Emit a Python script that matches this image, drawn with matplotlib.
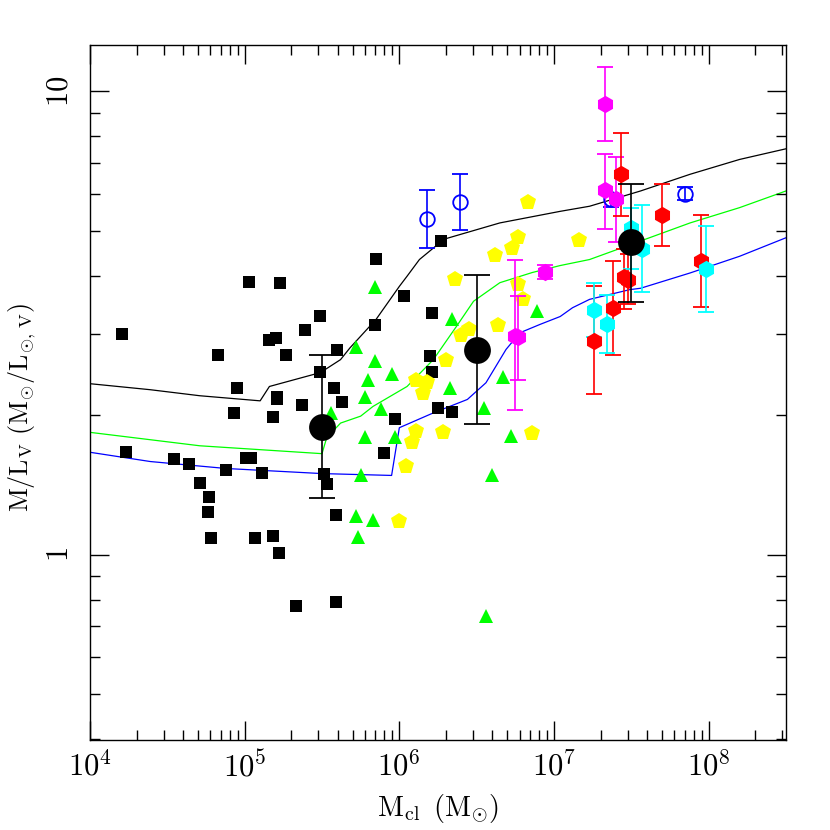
import numpy as np
import matplotlib.pyplot as plt
from matplotlib.ticker import FixedLocator, NullFormatter

plt.rcParams['font.family'] = 'serif'
plt.rcParams['font.serif'] = ['DejaVu Serif']
plt.rcParams['mathtext.fontset'] = 'cm'

# all values are log10(M_cl / Msun) and log10(M/L_V)
# black squares
sq_logm = [4.21, 4.23, 4.54, 4.64, 4.71, 4.77, 4.76, 4.78, 4.83, 4.95, 4.93, 4.88, 5.01, 5.04, 5.03,
           5.07, 5.11, 5.16, 5.20, 5.18, 5.18, 5.21, 5.21, 5.22, 5.23, 5.27, 5.33, 5.37, 5.39, 5.49,
           5.49, 5.51, 5.53, 5.58, 5.60, 5.59, 5.59, 5.63, 5.84, 5.85, 5.90, 5.97, 6.03, 6.20, 6.21,
           6.21, 6.25, 6.27, 6.34]
sq_logml = [0.477, 0.222, 0.207, 0.196, 0.154, 0.125, 0.093, 0.035, 0.430, 0.359, 0.305, 0.182, 0.208, 0.208, 0.589,
            0.037, 0.176, 0.464, 0.467, 0.298, 0.040, 0.340, 0.335, 0.003, 0.587, 0.432, -0.110, 0.322, 0.484, 0.515,
            0.394, 0.174, 0.153, 0.360, 0.441, 0.086, -0.102, 0.329, 0.496, 0.639, 0.220, 0.293, 0.559, 0.429, 0.521,
            0.395, 0.317, 0.678, 0.307]

# green triangles
tri_logm = [5.84, 6.34, 5.72, 5.84, 5.95, 5.80, 5.78, 5.88, 5.56, 6.33, 6.67, 6.89, 6.55, 5.78, 5.97,
            6.72, 5.75, 6.60, 5.72, 5.83, 5.73, 6.56]
tri_logml = [0.578, 0.509, 0.448, 0.417, 0.391, 0.378, 0.340, 0.315, 0.306, 0.359, 0.384, 0.525, 0.316, 0.255, 0.253,
             0.257, 0.173, 0.172, 0.083, 0.074, 0.038, -0.133]

# yellow pentagons
pen_logm = [6.83, 6.77, 6.73, 6.62, 6.36, 6.77, 6.80, 6.64, 6.45, 6.40, 6.30, 6.11, 6.18, 6.15, 6.11,
            6.08, 6.28, 6.86, 6.04, 6.00, 7.16]
pen_logml = [0.761, 0.686, 0.662, 0.646, 0.595, 0.585, 0.551, 0.496, 0.486, 0.475, 0.421, 0.378, 0.373, 0.349, 0.266,
             0.243, 0.264, 0.263, 0.192, 0.073, 0.680]

# binned means (big black circles)
bin_logm = [5.5, 6.5, 7.5]
bin_logml = [0.2765, 0.442, 0.674]
bin_lo = [0.122, 0.281, 0.546]
bin_hi = [0.430, 0.604, 0.801]

# blue open circles
bo_logm = [6.18, 6.39, 7.37, 7.85]
bo_logml = [0.724, 0.762, 0.767, 0.778]
bo_lo = [0.661, 0.700, 0.751, 0.765]
bo_hi = [0.786, 0.822, 0.781, 0.793]

# magenta hexagons
mg_logm = [7.33, 7.33, 7.40, 6.94, 6.75, 6.77]
mg_logml = [0.973, 0.788, 0.767, 0.609, 0.471, 0.469]
mg_lo = [0.893, 0.703, 0.675, 0.594, 0.312, 0.378]
mg_hi = [1.053, 0.864, 0.858, 0.625, 0.637, 0.559]

# red hexagons
rd_logm = [7.43, 7.70, 7.45, 7.48, 7.38, 7.26, 7.95]
rd_logml = [0.821, 0.733, 0.600, 0.592, 0.533, 0.462, 0.633]
rd_lo = [0.732, 0.667, 0.531, 0.540, 0.430, 0.346, 0.534]
rd_hi = [0.910, 0.800, 0.659, 0.648, 0.633, 0.580, 0.733]

# cyan hexagons
cy_logm = [7.50, 7.57, 7.98, 7.26, 7.34]
cy_logml = [0.706, 0.660, 0.617, 0.529, 0.498]
cy_lo = [0.616, 0.567, 0.524, 0.469, 0.436]
cy_hi = [0.749, 0.754, 0.709, 0.587, 0.560]

# model curves
blk_logm = [4.00, 4.39, 4.71, 5.10, 5.16, 5.49, 5.62, 5.68, 5.85, 6.00, 6.05, 6.13, 6.25, 6.28,
            6.65, 7.04, 7.23, 7.56, 7.88, 8.20, 8.50]
blk_logml = [0.369, 0.356, 0.343, 0.332, 0.363, 0.393, 0.421, 0.446, 0.508, 0.579, 0.601, 0.637, 0.670, 0.680,
             0.716, 0.741, 0.752, 0.785, 0.821, 0.853, 0.876]
grn_logm = [4.00, 4.71, 5.50, 5.53, 5.62, 5.75, 5.83, 6.05, 6.22, 6.37, 6.48, 6.65, 6.86, 7.04,
            7.23, 7.56, 7.88, 8.20, 8.50]
grn_logml = [0.264, 0.235, 0.218, 0.252, 0.284, 0.299, 0.320, 0.363, 0.421, 0.493, 0.547, 0.587, 0.609, 0.624,
             0.637, 0.677, 0.716, 0.749, 0.785]
blu_logm = [4.00, 4.39, 4.88, 5.50, 5.95, 6.00, 6.22, 6.44, 6.56, 6.69, 6.78, 6.91, 7.04, 7.12,
            7.23, 7.49, 7.56, 7.88, 8.20, 8.50]
blu_logml = [0.221, 0.201, 0.186, 0.175, 0.171, 0.274, 0.306, 0.335, 0.371, 0.443, 0.479, 0.497, 0.514, 0.533,
             0.551, 0.572, 0.575, 0.608, 0.644, 0.684]


def p(a):
    return 10 ** np.asarray(a, dtype=float)


def yerr(v, lo, hi):
    return [p(v) - p(lo), p(hi) - p(v)]


fig = plt.figure(figsize=(8.3, 8.3), dpi=100)
ax = fig.add_axes([90 / 830, 1 - 740 / 830, 696 / 830, 695 / 830])

ax.plot(p(blk_logm), p(blk_logml), color='black', lw=0.9, zorder=1)
ax.plot(p(grn_logm), p(grn_logml), color='#00ff00', lw=0.9, zorder=1)
ax.plot(p(blu_logm), p(blu_logml), color='#0000ff', lw=0.9, zorder=1)

ax.plot(p(sq_logm), p(sq_logml), 's', color='black', ms=8.6, mew=0, zorder=3)
ax.plot(p(tri_logm), p(tri_logml), '^', color='#00ff00', ms=10, mew=0, zorder=3)
ax.plot(p(pen_logm), p(pen_logml), 'p', color='#ffff00', ms=12, mew=0, zorder=3)


def errpts(xs, ys, lo, hi, color, fmt, ms, cap, filled=True, z=4):
    ax.errorbar(p(xs), p(ys), yerr=yerr(ys, lo, hi), fmt=fmt, color=color,
                mfc=color if filled else 'none', mec=color, ms=ms,
                mew=1.3, elinewidth=1.2, capsize=cap, capthick=1.2, zorder=z)


errpts(bo_logm, bo_logml, bo_lo, bo_hi, '#0000ff', 'o', 10.5, 6, filled=False)
errpts(mg_logm, mg_logml, mg_lo, mg_hi, '#ff00ff', 'h', 11, 6)
errpts(rd_logm, rd_logml, rd_lo, rd_hi, '#ff0000', 'h', 11, 6)
errpts(cy_logm, cy_logml, cy_lo, cy_hi, '#00ffff', 'h', 11, 6)
errpts(bin_logm, bin_logml, bin_lo, bin_hi, 'black', 'o', 18, 9.5, z=5)

ax.set_xscale('log')
ax.set_yscale('log')
ax.set_xlim(1e4, 10 ** 8.5)
ax.set_ylim(10 ** -0.4, 10 ** 1.1)

xmaj = [1e4, 1e5, 1e6, 1e7, 1e8]
ax.xaxis.set_major_locator(FixedLocator(xmaj))
ax.set_xticklabels([r'$10^{%d}$' % e for e in range(4, 9)], fontsize=22)
xmin = [m * 10 ** e for e in range(4, 9) for m in range(2, 10)]
ax.xaxis.set_minor_locator(FixedLocator(xmin))
ax.xaxis.set_minor_formatter(NullFormatter())

ax.yaxis.set_major_locator(FixedLocator([1, 10]))
ax.set_yticklabels([r'$1$', r'$10$'], fontsize=22, rotation=90, va='center')
ymin = [0.4, 0.5, 0.6, 0.7, 0.8, 0.9, 2, 3, 4, 5, 6, 7, 8, 9]
ax.yaxis.set_minor_locator(FixedLocator(ymin))
ax.yaxis.set_minor_formatter(NullFormatter())

ax.tick_params(which='both', direction='in', top=True, right=True, width=1)
ax.tick_params(which='major', length=14)
ax.tick_params(axis='x', which='major', pad=8)
ax.tick_params(axis='y', which='major', pad=11)
ax.tick_params(which='minor', length=7)
for s in ax.spines.values():
    s.set_linewidth(1)

ax.set_xlabel(r'$\mathrm{M_{cl}\ \,(M_{\odot})}$', fontsize=20.5, labelpad=6)
ax.set_ylabel(r'$\mathrm{M/L_{V}\ (M_{\odot}/L_{\odot,\,V})}$', fontsize=18.8, labelpad=4)
ax.yaxis.label.set_y(0.478)

fig.savefig('out.png', dpi=100)
